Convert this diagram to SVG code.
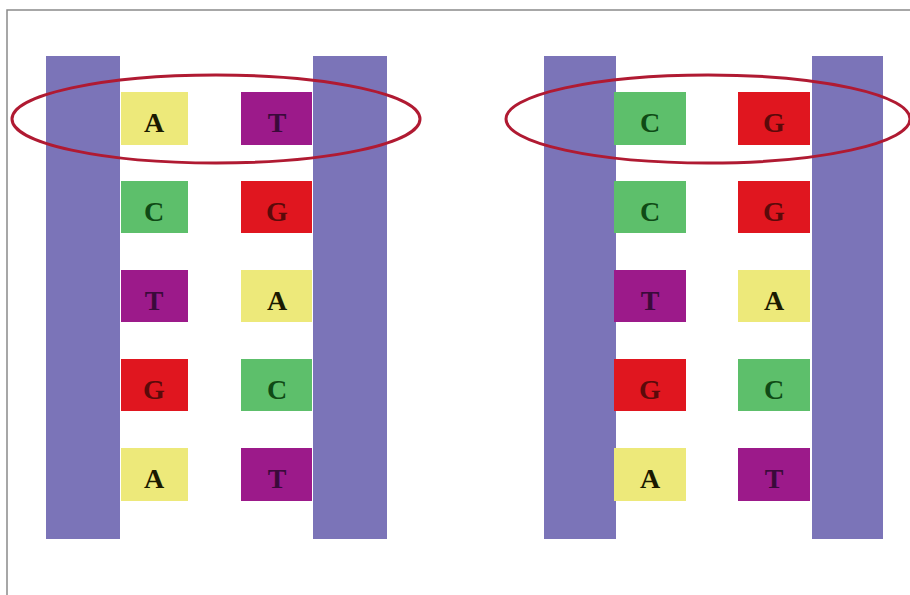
<svg xmlns="http://www.w3.org/2000/svg" width="910" height="595" viewBox="0 0 910 595">
<style>
.bar{fill:#7b74b8}
.a{fill:#ede97a}.t{fill:#9c1a8a}.c{fill:#5dbf6b}.g{fill:#e0161f}
text{font-family:"Liberation Serif",serif;font-weight:bold;font-size:28px;text-anchor:middle}
.ta{fill:#1a1a00}.tt{fill:#3a0a3a}.tc{fill:#0f4a15}.tg{fill:#5a0a0a}
.ring{fill:none;stroke:#b01a32;stroke-width:3}
</style>
<rect width="910" height="595" fill="#fff"/>
<path d="M7,595 V10 H910" fill="none" stroke="#8a8a8a" stroke-width="1.5"/>
<g id="left-strand">
<rect class="bar" x="46" y="56" width="74" height="483"/>
<rect class="bar" x="313" y="56" width="74" height="483"/>
<rect class="a" x="121" y="92" width="67" height="53"/><text class="ta" x="154" y="132">A</text>
<rect class="t" x="241" y="92" width="71" height="53"/><text class="tt" x="277" y="132">T</text>
<rect class="c" x="121" y="181" width="67" height="52"/><text class="tc" x="154" y="221">C</text>
<rect class="g" x="241" y="181" width="71" height="52"/><text class="tg" x="277" y="221">G</text>
<rect class="t" x="121" y="270" width="67" height="52"/><text class="tt" x="154" y="310">T</text>
<rect class="a" x="241" y="270" width="71" height="52"/><text class="ta" x="277" y="310">A</text>
<rect class="g" x="121" y="359" width="67" height="52"/><text class="tg" x="154" y="399">G</text>
<rect class="c" x="241" y="359" width="71" height="52"/><text class="tc" x="277" y="399">C</text>
<rect class="a" x="121" y="448" width="67" height="53"/><text class="ta" x="154" y="488">A</text>
<rect class="t" x="241" y="448" width="71" height="53"/><text class="tt" x="277" y="488">T</text>
<ellipse class="ring" cx="216" cy="119" rx="204" ry="44"/>
</g>
<g id="right-strand">
<rect class="bar" x="544" y="56" width="72" height="483"/>
<rect class="bar" x="812" y="56" width="71" height="483"/>
<rect class="c" x="614" y="92" width="72" height="53"/><text class="tc" x="650" y="132">C</text>
<rect class="g" x="738" y="92" width="72" height="53"/><text class="tg" x="774" y="132">G</text>
<rect class="c" x="614" y="181" width="72" height="52"/><text class="tc" x="650" y="221">C</text>
<rect class="g" x="738" y="181" width="72" height="52"/><text class="tg" x="774" y="221">G</text>
<rect class="t" x="614" y="270" width="72" height="52"/><text class="tt" x="650" y="310">T</text>
<rect class="a" x="738" y="270" width="72" height="52"/><text class="ta" x="774" y="310">A</text>
<rect class="g" x="614" y="359" width="72" height="52"/><text class="tg" x="650" y="399">G</text>
<rect class="c" x="738" y="359" width="72" height="52"/><text class="tc" x="774" y="399">C</text>
<rect class="a" x="614" y="448" width="72" height="53"/><text class="ta" x="650" y="488">A</text>
<rect class="t" x="738" y="448" width="72" height="53"/><text class="tt" x="774" y="488">T</text>
<ellipse class="ring" cx="708" cy="119" rx="202" ry="44"/>
</g>
</svg>
